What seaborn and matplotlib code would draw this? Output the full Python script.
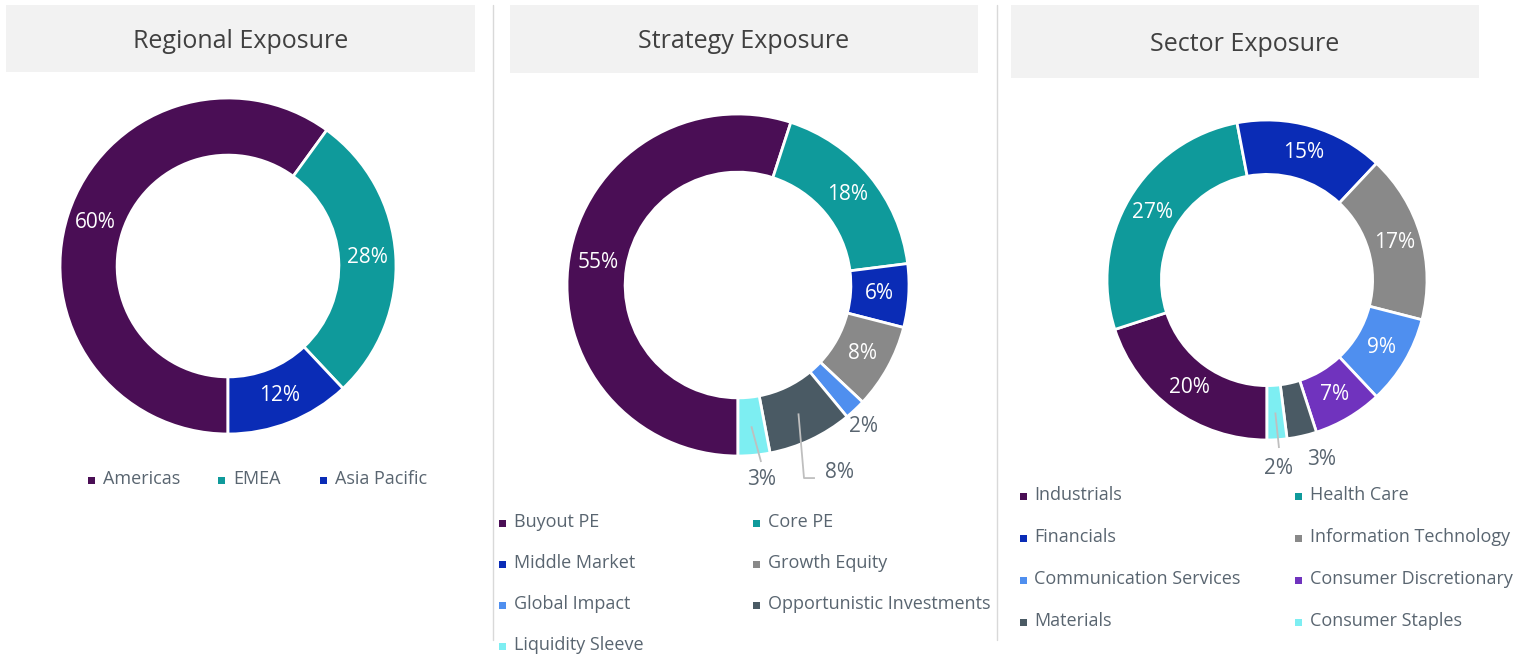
import numpy as np
import matplotlib.pyplot as plt
from matplotlib.patches import Rectangle
from matplotlib.lines import Line2D
import seaborn as sns

# chart data
region_labels = ["Americas", "EMEA", "Asia Pacific"]
region_values = [60, 28, 12]

strategy_labels = ["Buyout PE", "Core PE", "Middle Market", "Growth Equity",
                   "Global Impact", "Opportunistic Investments", "Liquidity Sleeve"]
strategy_values = [55, 18, 6, 8, 2, 8, 3]

sector_labels = ["Industrials", "Health Care", "Financials", "Information Technology",
                 "Communication Services", "Consumer Discretionary", "Materials",
                 "Consumer Staples"]
sector_values = [20, 27, 15, 17, 9, 7, 3, 2]

# colours
PURPLE = "#4A0E55"
TEAL = "#0F9A9B"
BLUE = "#0A2CB6"
GRAY = "#898989"
LBLUE = "#4F8FEF"
SLATE = "#4A5A64"
CYAN = "#7DEEF2"
VIOLET = "#7033BE"
TXT = "#596570"

region_colors = [PURPLE, TEAL, BLUE]
strategy_colors = [PURPLE, TEAL, BLUE, GRAY, LBLUE, SLATE, CYAN]
sector_colors = [PURPLE, TEAL, BLUE, GRAY, LBLUE, VIOLET, SLATE, CYAN]

sns.set_theme(style="white")
plt.rcParams['font.family'] = ['Open Sans', 'DejaVu Sans']

W, H = 1528, 655
fig = plt.figure(figsize=(W / 100, H / 100), dpi=100)


def fx(x):
    return x / W


def fy(y):
    return 1 - y / H


def title_box(x0, x1, y0, y1, text):
    fig.add_artist(Rectangle((fx(x0), fy(y1)), fx(x1 - x0), (y1 - y0) / H,
                             transform=fig.transFigure, facecolor="#F2F2F2",
                             edgecolor="none", zorder=0))
    fig.text(fx((x0 + x1) / 2), fy((y0 + y1) / 2 + 3), text, ha="center", va="center",
             fontsize=18, color="#404040")


def donut(cx, cy, R, values, colors, outside):
    size = 2.6 * R
    ax = fig.add_axes([fx(cx - size / 2), fy(cy + size / 2), size / W, size / H])
    wedges, _ = ax.pie(values, colors=colors, startangle=-90, counterclock=False,
                       wedgeprops=dict(width=0.34, edgecolor="white", linewidth=2))
    ax.set_xlim(-1.3, 1.3)
    ax.set_ylim(-1.3, 1.3)
    ax.set_aspect("equal")
    ax.axis("off")
    for i, (w, v) in enumerate(zip(wedges, values)):
        mid = np.deg2rad((w.theta1 + w.theta2) / 2)
        ax_x, ax_y = 0.83 * np.cos(mid), 0.83 * np.sin(mid)
        if i in outside:
            spec = outside[i]
            if spec.get("path"):
                pts = [(ax_x, ax_y)] + spec["path"]
                ax.plot([p[0] for p in pts], [p[1] for p in pts], color="#BFBFBF",
                        lw=1.3, solid_capstyle="butt")
            tx, ty = spec["text"]
            ax.text(tx, ty, f"{v}%", ha="center", va="center", fontsize=15, color=TXT)
        else:
            ax.text(ax_x, ax_y, f"{v}%", ha="center", va="center", fontsize=15,
                    color="white")
    return ax


def legend(labels, colors, col_x, row_y, ncol):
    for i, (lab, col) in enumerate(zip(labels, colors)):
        mx, tx = col_x[i % ncol]
        y = row_y[i // ncol]
        fig.add_artist(Rectangle((fx(mx - 3.5), fy(y + 4.5)), 7 / W, 7 / H,
                                 transform=fig.transFigure, facecolor=col,
                                 edgecolor="none"))
        fig.text(fx(tx), fy(y), lab, ha="left", va="center", fontsize=13, color=TXT)


# separators
for sx in (493, 997):
    fig.add_artist(Line2D([fx(sx), fx(sx)], [fy(5), fy(640)], transform=fig.transFigure,
                          color="#D9D9D9", lw=1))

# Regional
title_box(6, 475, 5, 72, "Regional Exposure")
donut(228, 266, 168, region_values, region_colors, {})
legend(region_labels, region_colors, [(91.5, 103), (221.5, 233), (323.5, 335)], [479], 3)

# Strategy
title_box(510, 978, 5, 73, "Strategy Exposure")
donut(738, 285, 171, strategy_values, strategy_colors, {
    4: {"text": (0.731, -0.83)},
    5: {"text": (0.591, -1.094), "path": [(0.386, -1.129), (0.450, -1.129)]},
    6: {"text": (0.135, -1.135), "path": [(0.135, -1.035)]},
})
legend(strategy_labels, strategy_colors, [(503, 514), (756, 768)], [522, 563, 604, 645], 2)

# Sector
title_box(1011, 1479, 5, 78, "Sector Exposure")
donut(1267, 280, 160, sector_values, sector_colors, {
    6: {"text": (0.344, -1.119)},
    7: {"text": (0.069, -1.175), "path": [(0.075, -1.05)]},
})
legend(sector_labels, sector_colors, [(1023, 1034), (1298, 1310)], [495, 537, 579, 621], 2)

fig.savefig("out.png", dpi=100)
